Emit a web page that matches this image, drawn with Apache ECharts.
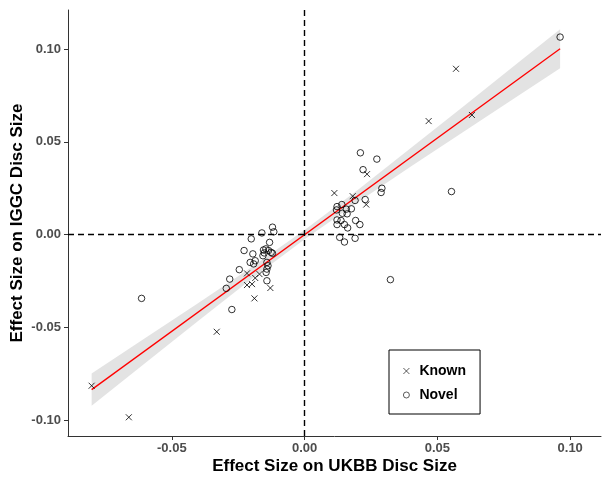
<!DOCTYPE html>
<html>
<head>
<meta charset="utf-8">
<script src="https://cdn.jsdelivr.net/npm/echarts@6/dist/echarts.min.js"></script>
<style>html,body{margin:0;padding:0;background:#fff}#c{width:603px;height:477px}</style>
</head>
<body>
<div id="c"></div>
<script>
// Known variants (x markers)
const knownX = [0.0570, 0.0630, 0.0467, 0.0235, 0.0112, 0.0181, 0.0232, -0.0217, -0.0170, -0.0186, -0.0217, -0.0198, -0.0129, -0.0189, -0.0331, -0.0802, -0.0662];
const knownY = [0.0894, 0.0645, 0.0612, 0.0326, 0.0224, 0.0207, 0.0162, -0.0209, -0.0213, -0.0234, -0.0272, -0.0267, -0.0288, -0.0344, -0.0524, -0.0815, -0.0985];
// Novel variants (circles)
const novelX = [0.0962, 0.0210, 0.0272, 0.0220, 0.0291, 0.0288, 0.0553, 0.0190, 0.0228, 0.0122, 0.0140, 0.0120, 0.0157, 0.0176, 0.0142, 0.0160, 0.0122, 0.0137, 0.0192, 0.0122, 0.0150, 0.0208, 0.0162, 0.0132, 0.0150, 0.0190, 0.0323,
  -0.0121, -0.0116, -0.0161, -0.0201, -0.0132, -0.0228, -0.0195, -0.0155, -0.0146, -0.0136, -0.0126, -0.0152, -0.0121, -0.0157, -0.0205, -0.0192, -0.0186, -0.0142, -0.0138, -0.0142, -0.0246, -0.0145, -0.0282, -0.0295, -0.0142, -0.0274, -0.0614];
const novelY = [0.1065, 0.0441, 0.0407, 0.0350, 0.0250, 0.0227, 0.0232, 0.0184, 0.0189, 0.0151, 0.0162, 0.0133, 0.0137, 0.0139, 0.0115, 0.0112, 0.0079, 0.0076, 0.0076, 0.0054, 0.0054, 0.0054, 0.0036, -0.0015, -0.0040, -0.0020, -0.0243,
  0.0040, 0.0015, 0.0009, -0.0023, -0.0042, -0.0086, -0.0104, -0.0083, -0.0077, -0.0086, -0.0096, -0.0099, -0.0101, -0.0114, -0.0150, -0.0158, -0.0141, -0.0150, -0.0168, -0.0186, -0.0189, -0.0204, -0.0240, -0.0290, -0.0249, -0.0404, -0.0344];
// Regression line and confidence band
const fitX = [-0.0802, 0.0962];
const fitY = [-0.0836, 0.1002];
const bandX = [-0.0802, -0.06, -0.04, -0.02, 0, 0.02, 0.04, 0.06, 0.08, 0.0962];
const bandLow = [-0.0923, -0.0692, -0.0465, -0.0240, -0.0025, 0.0175, 0.0367, 0.0556, 0.0745, 0.0897];
const bandHigh = [-0.0749, -0.0558, -0.0369, -0.0176, 0.0025, 0.0241, 0.0467, 0.0694, 0.0923, 0.1107];
// Ticks
const xTicks = [-0.05, 0, 0.05, 0.10];
const yTicks = [-0.10, -0.05, 0, 0.05, 0.10];
const seriesNames = ['Known', 'Novel'];
const xTitle = 'Effect Size on UKBB Disc Size';
const yTitle = 'Effect Size on IGGC Disc Size';

const FONT = '"Liberation Sans", Arial, Helvetica, sans-serif';
const crossPath = 'path://M0,0L10,10M0,10L10,0';

const chart = echarts.init(document.getElementById('c'), null, {renderer: 'canvas'});
const zip = (a, b) => a.map((v, i) => [v, b[i]]);

const axisCommon = {
  type: 'value',
  nameLocation: 'middle',
  nameMoveOverlap: false,
  nameTextStyle: {fontFamily: FONT, fontWeight: 'bold', fontSize: 17, color: '#000'},
  axisLine: {show: true, onZero: false, lineStyle: {color: '#333', width: 1}},
  axisTick: {show: true, length: 4, lineStyle: {color: '#333', width: 1}},
  splitLine: {show: false},
  axisLabel: {fontFamily: FONT, fontWeight: 'bold', fontSize: 13, color: '#4d4d4d',
    formatter: v => v.toFixed(2)}
};

chart.setOption({
  animation: false,
  backgroundColor: '#fff',
  grid: {left: 68, right: 2, top: 10, bottom: 41, containLabel: false, outerBoundsMode: 'none'},
  xAxis: Object.assign({}, axisCommon, {
    min: -0.0891, max: 0.1116,
    name: xTitle, nameGap: 22,
    axisTick: Object.assign({}, axisCommon.axisTick, {customValues: xTicks}),
    axisLabel: Object.assign({}, axisCommon.axisLabel, {customValues: xTicks, margin: 6})
  }),
  yAxis: Object.assign({}, axisCommon, {
    min: -0.1086, max: 0.1211,
    name: yTitle, nameGap: 42,
    axisTick: Object.assign({}, axisCommon.axisTick, {customValues: yTicks}),
    axisLabel: Object.assign({}, axisCommon.axisLabel, {customValues: yTicks, margin: 7})
  }),
  legend: {
    data: seriesNames,
    orient: 'vertical',
    left: 389, top: 350,
    padding: [14, 14, 12, 14],
    itemWidth: 6, itemHeight: 6, itemGap: 10,
    borderColor: '#000', borderWidth: 1,
    selectedMode: false,
    itemStyle: {borderWidth: 0.8},
    textStyle: {fontFamily: FONT, fontWeight: 'bold', fontSize: 14, color: '#000', padding: [0, 0, 0, 5]}
  },
  series: [
    {
      name: 'band', type: 'custom', silent: true, z: 1,
      data: bandX.map((x, i) => [x, bandLow[i], bandHigh[i]]),
      encode: {x: 0, y: [1, 2]},
      renderItem: function (params, api) {
        if (params.dataIndex !== 0) return null;
        const pts = [];
        for (let i = 0; i < bandX.length; i++) pts.push(api.coord([bandX[i], bandHigh[i]]));
        for (let i = bandX.length - 1; i >= 0; i--) pts.push(api.coord([bandX[i], bandLow[i]]));
        return {type: 'polygon', shape: {points: pts}, style: {fill: '#e3e3e3', stroke: null}};
      },
      markLine: {
        silent: true, symbol: 'none', animation: false,
        label: {show: false},
        lineStyle: {color: '#000', type: [6, 4], width: 1.4},
        data: [{xAxis: 0}, {yAxis: 0}]
      }
    },
    {
      name: 'fit', type: 'line', data: zip(fitX, fitY), symbol: 'none',
      lineStyle: {color: '#ff0000', width: 1.3}, silent: true, z: 3
    },
    {
      name: 'Known', type: 'scatter', data: zip(knownX, knownY),
      symbol: crossPath, symbolSize: 6,
      itemStyle: {color: 'transparent', borderColor: '#000', borderWidth: 1}, z: 4
    },
    {
      name: 'Novel', type: 'scatter', data: zip(novelX, novelY),
      symbol: 'circle', symbolSize: 6.5,
      itemStyle: {color: 'transparent', borderColor: '#000', borderWidth: 1}, z: 4
    }
  ]
});
</script>
</body>
</html>
